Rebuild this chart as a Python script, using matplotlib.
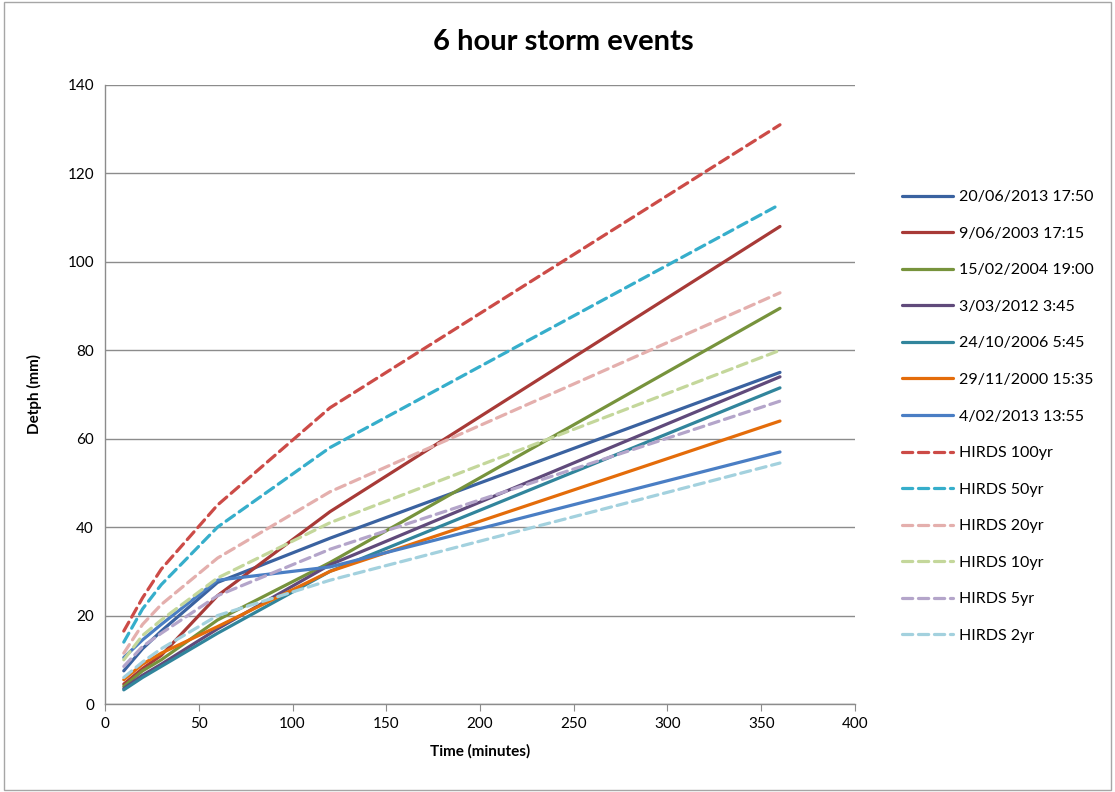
import matplotlib
matplotlib.use("Agg")
import matplotlib.pyplot as plt
from matplotlib.patches import Rectangle

plt.rcParams['font.family'] = ['Lato', 'DejaVu Sans']

# Storm durations (minutes)
durations = [10, 20, 30, 60, 120, 360]

# Observed storm events: cumulative depth (mm) for each duration
event_labels = [
    "20/06/2013 17:50",
    "9/06/2003 17:15",
    "15/02/2004 19:00",
    "3/03/2012 3:45",
    "24/10/2006 5:45",
    "29/11/2000 15:35",
    "4/02/2013 13:55",
]
ev_20jun2013 = [7.5, 12.5, 16.5, 27.5, 37.5, 75.0]
ev_9jun2003 = [4.5, 8.0, 11.0, 24.5, 43.5, 108.0]
ev_15feb2004 = [4.0, 7.5, 10.0, 19.0, 32.0, 89.5]
ev_3mar2012 = [3.5, 6.5, 9.0, 17.0, 31.5, 74.0]
ev_24oct2006 = [3.2, 6.0, 8.5, 16.0, 30.0, 71.5]
ev_29nov2000 = [5.5, 9.0, 11.5, 17.5, 30.0, 64.0]
ev_4feb2013 = [10.5, 14.5, 18.0, 28.0, 31.0, 57.0]
event_values = [ev_20jun2013, ev_9jun2003, ev_15feb2004, ev_3mar2012,
                ev_24oct2006, ev_29nov2000, ev_4feb2013]
event_colors = ["#3A62A0", "#A83A37", "#77933C", "#604A7B",
                "#31859C", "#E46C0A", "#4A7EC4"]

# HIRDS design rainfall depths (mm) by return period
hirds_labels = ["HIRDS 100yr", "HIRDS 50yr", "HIRDS 20yr",
                "HIRDS 10yr", "HIRDS 5yr", "HIRDS 2yr"]
hirds_100 = [16.5, 24.0, 30.5, 45.0, 67.0, 131.0]
hirds_50 = [14.0, 21.5, 27.0, 40.0, 58.0, 113.0]
hirds_20 = [11.5, 18.0, 22.5, 33.0, 48.0, 93.0]
hirds_10 = [10.0, 15.5, 19.0, 28.5, 41.0, 80.0]
hirds_5 = [8.5, 13.0, 16.0, 24.5, 35.0, 68.5]
hirds_2 = [6.0, 9.5, 12.5, 20.0, 28.0, 54.5]
hirds_values = [hirds_100, hirds_50, hirds_20, hirds_10, hirds_5, hirds_2]
hirds_colors = ["#CC4B47", "#36AECB", "#E4AFAD", "#C4D79B", "#B4A5CA", "#A3D1DE"]

DASH = (0, (3.2, 1.8))
LW = 2.3

fig = plt.figure(figsize=(11.15, 7.92), dpi=100)
ax = fig.add_axes([0.0942, 0.1111, 0.6726, 0.7816])

for lab, vals, col in zip(event_labels, event_values, event_colors):
    ax.plot(durations, vals, color=col, lw=LW, label=lab,
            solid_capstyle='round', solid_joinstyle='round')

for lab, vals, col in zip(hirds_labels, hirds_values, hirds_colors):
    ax.plot(durations, vals, color=col, lw=LW, label=lab,
            linestyle=DASH, dash_capstyle='round', dash_joinstyle='round')

ax.set_xlim(0, 400)
ax.set_ylim(0, 140)
ax.set_xticks(range(0, 401, 50))
ax.set_yticks(range(0, 141, 20))
ax.yaxis.grid(True, color="#8C8C8C", lw=1.0)
ax.set_axisbelow(True)
for side in ("top", "right"):
    ax.spines[side].set_visible(False)
for side in ("left", "bottom"):
    ax.spines[side].set_color("#8C8C8C")
    ax.spines[side].set_linewidth(1.0)
ax.tick_params(axis='x', length=5, color="#8C8C8C", labelsize=11, pad=4)
ax.tick_params(axis='y', length=0, labelsize=11, pad=8)

ax.set_xlabel("Time (minutes)", fontsize=11, fontweight='bold', labelpad=10)
ax.set_ylabel("Detph (mm)", fontsize=11, fontweight='bold', labelpad=18)

fig.text(0.505, 0.947, "6 hour storm events", ha='center', va='center',
         fontsize=21, fontweight='bold')

ax.legend(loc='upper left', bbox_to_anchor=(0.803, 0.768),
          bbox_transform=fig.transFigure, frameon=False,
          fontsize=11.5, handlelength=3.2, handletextpad=0.4,
          labelspacing=1.40, borderaxespad=0)

# Chart-area border
fig.patches.append(Rectangle((0.004, 0.003), 0.992, 0.994, transform=fig.transFigure,
                             fill=False, edgecolor="#A6A6A6", lw=1.0))

fig.savefig("out.png", dpi=100)
